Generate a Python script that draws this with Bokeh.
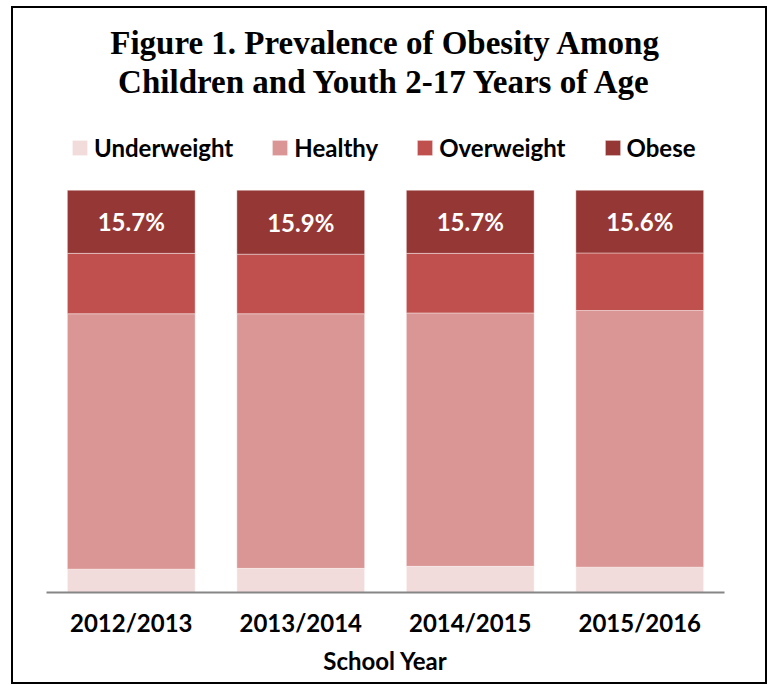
from bokeh.plotting import figure
from bokeh.models import (FactorRange, Range1d, Legend, LegendItem, Title,
                          ColumnDataSource, LabelSet)
from bokeh.core.properties import value
from bokeh.embed import file_html
from bokeh.resources import INLINE

# ---- data (percent of children, by school year) ----
years = ["2012/2013", "2013/2014", "2014/2015", "2015/2016"]
underweight = [5.8, 6.0, 6.5, 6.3]
healthy = [63.5, 63.3, 63.0, 63.8]
overweight = [15.0, 14.8, 14.8, 14.3]
obese = [15.7, 15.9, 15.7, 15.6]
categories = ["Underweight", "Healthy", "Overweight", "Obese"]
colors = ["#F2DCDB", "#D99694", "#C0504D", "#953735"]

top_obese = [u + h + o + b for u, h, o, b in zip(underweight, healthy, overweight, obese)]
label_y = [t - b / 2 for t, b in zip(top_obese, obese)]
label_text = ["%.1f%%" % b for b in obese]

source = ColumnDataSource(dict(
    year=years,
    Underweight=underweight,
    Healthy=healthy,
    Overweight=overweight,
    Obese=obese,
    label_y=label_y,
    label_text=label_text,
))

# frame reaches above 100% to leave room for the legend inside it
p = figure(x_range=FactorRange(*years), y_range=Range1d(0, 122.3),
           width=756, height=678, output_backend="svg", toolbar_location=None,
           title=None, y_axis_location=None,
           min_border_left=33, min_border_right=45,
           min_border_top=92, min_border_bottom=94)
p.styles = {"border": "2px solid black", "margin-left": "11px", "margin-top": "6px"}

renderers = p.vbar_stack(categories, x="year", width=0.754, color=colors,
                         line_color="white", line_width=0.8, line_alpha=0.5,
                         source=source)

labels = LabelSet(x="year", y="label_y", text="label_text", source=source,
                  text_align="center", text_baseline="middle",
                  text_color="white", text_font=value("Lato"), text_font_style="bold",
                  text_font_size="24px")
p.add_layout(labels)

legend = Legend(items=[LegendItem(label=c, renderers=[r]) for c, r in zip(categories, renderers)],
                orientation="horizontal", location=(24, 430),
                glyph_width=19, glyph_height=19, label_standoff=5, spacing=37,
                label_text_font="Lato", label_text_font_style="bold",
                label_text_font_size="24px", label_text_color="black",
                border_line_color=None, background_fill_alpha=0,
                padding=0, margin=0)
p.add_layout(legend)

p.add_layout(Title(text="Children and Youth 2-17 Years of Age", align="center",
                   text_font="Liberation Serif", text_font_style="bold",
                   text_font_size="33px", text_color="black", standoff=2, offset=6), "above")
p.add_layout(Title(text="Figure 1. Prevalence of Obesity Among", align="center",
                   text_font="Liberation Serif", text_font_style="bold",
                   text_font_size="33px", text_color="black", standoff=0, offset=6), "above")

p.xgrid.grid_line_color = None
p.ygrid.grid_line_color = None
p.outline_line_color = None

ax = p.xaxis[0]
ax.axis_line_color = "#868686"
ax.axis_line_width = 2
ax.major_tick_line_color = None
ax.minor_tick_line_color = None
ax.major_label_text_font = "Lato"
ax.major_label_text_font_style = "bold"
ax.major_label_text_font_size = "24px"
ax.major_label_text_color = "black"
ax.major_label_standoff = 9
ax.axis_label = "School Year"
ax.axis_label_text_font = "Lato"
ax.axis_label_text_font_style = "bold"
ax.axis_label_text_font_size = "24px"
ax.axis_label_text_color = "black"
ax.axis_label_standoff = 6

open("out.html", "w").write(file_html(p, INLINE))
